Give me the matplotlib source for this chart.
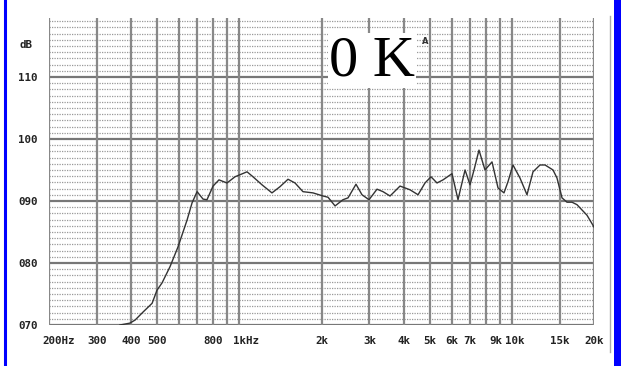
import matplotlib.pyplot as plt
from matplotlib.lines import Line2D
from matplotlib.patches import Rectangle

# frequency response
freq = [364, 396, 414, 443, 478, 498, 520, 556, 595, 642, 670, 699, 735, 760,
        800, 841, 900, 963, 1066, 1121, 1210, 1316, 1408, 1507, 1599, 1710,
        1862, 2026, 2113, 2243, 2398, 2503, 2677, 2816, 2988, 3197, 3363,
        3569, 3883, 4226, 4522, 4796, 5045, 5307, 5584, 6024, 6180, 6338,
        6727, 7015, 7257, 7568, 7962, 8448, 8888, 9347, 9668, 10086, 10700,
        11354, 11946, 12674, 13224, 14144, 14630, 15262, 15920, 16608, 17322,
        18850, 20000]
level = [70.0, 70.3, 70.8, 72.1, 73.5, 75.6, 76.8, 79.4, 82.6, 86.9, 89.7,
         91.5, 90.3, 90.2, 92.4, 93.4, 92.9, 93.9, 94.7, 93.9, 92.6, 91.3,
         92.3, 93.5, 92.9, 91.5, 91.3, 90.8, 90.6, 89.2, 90.2, 90.5, 92.7,
         91.0, 90.2, 91.9, 91.5, 90.8, 92.4, 91.8, 91.0, 92.9, 93.9, 92.9,
         93.4, 94.4, 92.3, 90.2, 95.0, 92.6, 95.0, 98.2, 95.0, 96.3, 92.1,
         91.3, 93.1, 95.8, 93.7, 91.0, 94.7, 95.8, 95.8, 95.0, 93.7, 90.5,
         89.8, 89.8, 89.4, 87.7, 85.8]

grid_freqs = [200, 300, 400, 500, 600, 700, 800, 900, 1000, 2000, 3000, 4000,
              5000, 6000, 7000, 8000, 9000, 10000, 15000, 20000]
tick_freqs = [200, 300, 400, 500, 800, 1000, 2000, 3000, 4000, 5000, 6000,
              7000, 9000, 10000, 15000, 20000]
tick_labels = ['200Hz', '300', '400', '500', '800', '1kHz', '2k', '3k', '4k',
               '5k', '6k', '7k', '9k', '10k', '15k', '20k']
db_ticks = [70, 80, 90, 100, 110]
db_labels = ['070', '080', '090', '100', '110']

lab_font = dict(family='DejaVu Sans Mono', fontweight='bold', fontsize=7.8,
                color='#222222')
# small nudges (points) so the crowded 9k/10k labels sit side by side
nudge = {'9k': -2.5, '10k': 2.0}

fig = plt.figure(figsize=(6.21, 3.66), dpi=100)
ax = fig.add_axes([49 / 621, 41 / 366, 545 / 621, 307 / 366])
ax.set_xscale('log')
ax.set_xlim(200, 20000)
ax.set_ylim(70, 119.5)
ax.minorticks_off()
for s in ax.spines.values():
    s.set_visible(False)

# 1 dB dotted lines, 10 dB solid lines, frequency lines
for d in range(71, 120):
    if d % 10:
        ax.axhline(d, color='#999999', lw=0.9, ls=(0, (1, 1)), zorder=1)
for d in db_ticks:
    ax.axhline(d, color='#777777', lw=1.6, zorder=2)
for f in grid_freqs:
    ax.axvline(f, color='#888888', lw=1.6, zorder=2)

ax.plot(freq, level, color='#333333', lw=1.0, zorder=4)

ax.set_xticks([])
ax.set_yticks(db_ticks, db_labels, **lab_font)
ax.tick_params(axis='y', length=0, pad=8)

for f, lab in zip(tick_freqs, tick_labels):
    hz = lab.endswith('Hz')
    ax.annotate(lab, xy=(f, 0), xycoords=('data', 'axes fraction'),
                xytext=(-5 if hz else nudge.get(lab, 0), -8),
                textcoords='offset points',
                ha='left' if hz else 'center', va='top', **lab_font)
ax.annotate('dB', xy=(0, 115.2), xycoords=('axes fraction', 'data'),
            xytext=(-16.5, 0), textcoords='offset points',
            ha='center', va='center', **lab_font)

# stamp
fig.add_artist(Rectangle((328 / 621, 1 - 88 / 366), 88 / 621, 55 / 366,
                         transform=fig.transFigure, facecolor='white',
                         edgecolor='none', zorder=5))
fig.text(372 / 621, 1 - 61 / 366, '0 K', family='Liberation Serif',
         fontsize=42, ha='center', va='center', color='black', zorder=6)
fig.text(425 / 621, 1 - 42 / 366, 'A', fontsize=6, fontweight='bold',
         color='#333333', ha='center', va='center', zorder=6)

# frame lines
fig.add_artist(Line2D([5 / 621, 5 / 621], [0, 1], color='#0000ff', lw=2.2))
fig.add_artist(Rectangle((614 / 621, 0), 7 / 621, 1, transform=fig.transFigure,
                         facecolor='#0000ff', edgecolor='none'))
fig.add_artist(Line2D([609.5 / 621, 609.5 / 621], [1 - 352 / 366, 1 - 16 / 366],
                      color='#aaaaaa', lw=1.0))

fig.savefig('out.png', dpi=100)
